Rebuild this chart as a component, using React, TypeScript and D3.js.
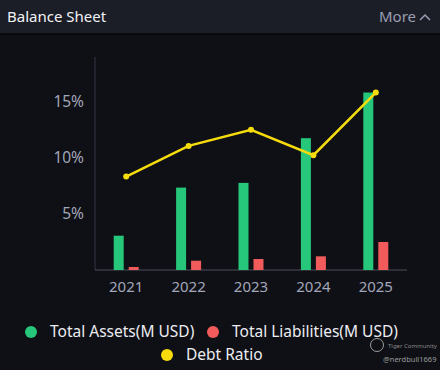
import React, { useEffect, useRef } from 'react';
import * as d3 from 'd3';

const years = ['2021', '2022', '2023', '2024', '2025'];
const totalAssets = [3.06, 7.35, 7.77, 11.76, 15.83];
const totalLiabilities = [0.27, 0.83, 0.98, 1.22, 2.5];
const debtRatio = [8.33, 11.07, 12.5, 10.24, 15.83];
const yTicks = [5, 10, 15];

const W = 440, H = 370;
const FONT = '"Noto Sans", "Open Sans", sans-serif';

const App = () => {
    const svgRef = useRef<SVGSVGElement>(null);

    useEffect(() => {
        const svg = d3.select(svgRef.current);
        svg.selectAll('*').remove();

        // background + header
        svg.append('rect').attr('width', W).attr('height', H).attr('fill', '#0e1015');
        svg.append('rect').attr('width', W).attr('height', 33).attr('fill', '#1b1e27');
        svg.append('rect').attr('y', 33).attr('width', W).attr('height', 2).attr('fill', '#090a0e');
        svg.append('text').text('Balance Sheet')
            .attr('x', 7).attr('y', 22)
            .attr('fill', '#f2f2f5').style('font-family', FONT).style('font-size', '15px');
        svg.append('text').text('More')
            .attr('x', 416).attr('y', 22).attr('text-anchor', 'end')
            .attr('fill', '#9a9db2').style('font-family', FONT).style('font-size', '15px');
        svg.append('path').attr('d', 'M420,20 L425,15 L430,20')
            .attr('fill', 'none').attr('stroke', '#9a9db2').attr('stroke-width', 1.5);

        const x = d3.scaleBand().domain(years).range([95, 407]);
        const y = d3.scaleLinear().domain([0, 19]).range([270, 57]);
        const barW = 10, gap = 5;

        // axes
        svg.append('line').attr('x1', 95).attr('x2', 95).attr('y1', 57).attr('y2', 270)
            .attr('stroke', '#343744');
        svg.append('line').attr('x1', 95).attr('x2', 407).attr('y1', 270).attr('y2', 270)
            .attr('stroke', '#4a4d5c');

        svg.selectAll('.ytick').data(yTicks).enter().append('text')
            .attr('x', 84).attr('y', (d) => y(d) + 5).attr('text-anchor', 'end')
            .text((d) => d + '%')
            .attr('fill', '#a3a6ba').style('font-family', FONT).style('font-size', '15.5px');

        svg.selectAll('.xtick').data(years).enter().append('text')
            .attr('x', (d) => x(d)! + x.bandwidth() / 2).attr('y', 292).attr('text-anchor', 'middle')
            .text((d) => d)
            .attr('fill', '#a3a6ba').style('font-family', FONT).style('font-size', '15px');

        // bars
        svg.selectAll('.asset').data(totalAssets).enter().append('rect')
            .attr('x', (d, i) => x(years[i])! + x.bandwidth() / 2 - gap / 2 - barW)
            .attr('y', (d) => y(d)).attr('width', barW).attr('height', (d) => y(0) - y(d))
            .attr('fill', '#27c77b');
        svg.selectAll('.liab').data(totalLiabilities).enter().append('rect')
            .attr('x', (d, i) => x(years[i])! + x.bandwidth() / 2 + gap / 2)
            .attr('y', (d) => y(d)).attr('width', barW).attr('height', (d) => y(0) - y(d))
            .attr('fill', '#f25b5b');

        // line
        const line = d3.line<number>()
            .x((d, i) => x(years[i])! + x.bandwidth() / 2)
            .y((d) => y(d));
        svg.append('path').datum(debtRatio).attr('d', line)
            .attr('fill', 'none').attr('stroke', '#f6dc0c').attr('stroke-width', 2.5);
        svg.selectAll('.dot').data(debtRatio).enter().append('circle')
            .attr('cx', (d, i) => x(years[i])! + x.bandwidth() / 2).attr('cy', (d) => y(d))
            .attr('r', 3).attr('fill', '#f6dc0c');

        // legend
        const legend = [
            { label: 'Total Assets(M USD)', color: '#27c77b', cx: 31, cy: 332 },
            { label: 'Total Liabilities(M USD)', color: '#f25b5b', cx: 213, cy: 332 },
            { label: 'Debt Ratio', color: '#f6dc0c', cx: 167, cy: 355 },
        ];
        legend.forEach((l) => {
            svg.append('circle').attr('cx', l.cx).attr('cy', l.cy).attr('r', 6).attr('fill', l.color);
            svg.append('text').text(l.label)
                .attr('x', l.cx + 19).attr('y', l.cy + 5)
                .attr('fill', '#ececf2').style('font-family', FONT).style('font-size', '15.5px');
        });

        // watermark
        svg.append('circle').attr('cx', 377).attr('cy', 345).attr('r', 6.5)
            .attr('fill', 'none').attr('stroke', '#9a9a9a').attr('stroke-width', 1);
        svg.append('text').text('Tiger Community').attr('x', 388).attr('y', 348)
            .attr('fill', '#8a8a8a').style('font-family', FONT).style('font-size', '6px');
        svg.append('text').text('@nerdbull1669').attr('x', 383).attr('y', 362)
            .attr('fill', '#9a9a9a').style('font-family', FONT).style('font-size', '7.5px');
    }, []);

    return (
        <div style={{ position: 'fixed', left: 0, top: 0 }}>
            <svg ref={svgRef} width={W} height={H} style={{ display: 'block' }} />
        </div>
    );
};

export default App;
